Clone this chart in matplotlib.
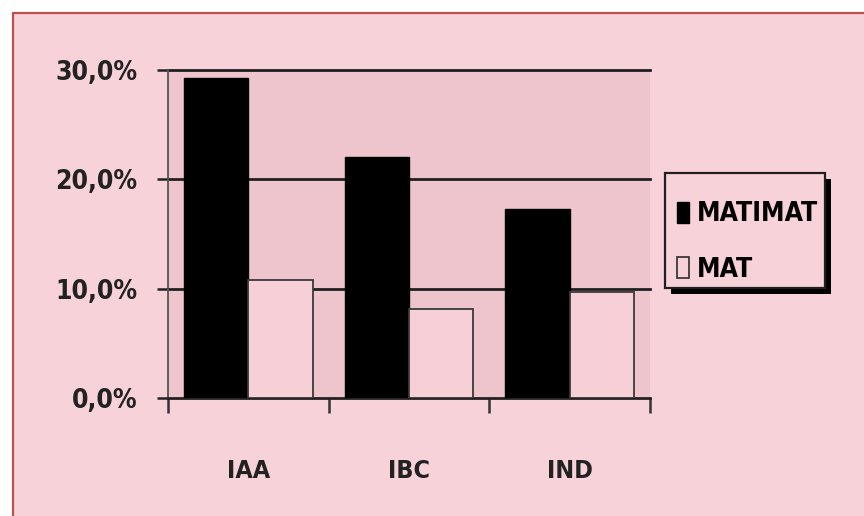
import matplotlib
matplotlib.use("Agg")
import matplotlib.pyplot as plt
from matplotlib.patches import Rectangle
from matplotlib.ticker import FixedLocator

# donnees (en %)
categories = ["IAA", "IBC", "IND"]
matimat = [29.3, 22.0, 17.3]
mat = [10.8, 8.1, 9.7]
yticks = [0, 10, 20, 30]
ytick_labels = ["0,0%", "10,0%", "20,0%", "30,0%"]

fond = "#f8d2d9"
fond_graphe = "#eec5cc"
police = dict(family="DejaVu Sans", stretch="condensed", weight="bold")

fig = plt.figure(figsize=(8.64, 5.16), dpi=100, facecolor="white")

# cadre rose avec bordure rouge
cadre = Rectangle((13/864, -0.1), 1.1, 1 - 13/516 + 0.1, transform=fig.transFigure,
                  facecolor=fond, edgecolor="#c0504d", lw=1.6, zorder=-5)
fig.patches.append(cadre)

ax = fig.add_axes([168/864, 118/516, 482/864, 328/516])
ax.set_facecolor(fond_graphe)

x = list(range(len(categories)))
largeur = 0.4
ax.bar([i - largeur/2 for i in x], matimat, largeur, color="black", edgecolor="black",
       lw=1.0, label="MATIMAT", zorder=3)
ax.bar([i + largeur/2 for i in x], mat, largeur, color="#f7cfd6", edgecolor="#3a3a3a",
       lw=1.3, label="MAT", zorder=3)

ax.set_xlim(-0.5, len(categories) - 0.5)
ax.set_ylim(0, 30)

# lignes horizontales
for v in yticks[1:]:
    ax.axhline(v, color="#202020", lw=2.0, zorder=2, clip_on=False)

ax.set_yticks(yticks)
ax.set_yticklabels(ytick_labels, fontsize=19, color="#222222", **police)
ax.tick_params(axis="y", length=8, width=1.8, pad=14, color="#222222")

ax.set_xticks(x)
ax.set_xticklabels(categories, fontsize=18, color="#222222", **police)
ax.tick_params(axis="x", which="major", length=0, pad=44)
ax.xaxis.set_minor_locator(FixedLocator([-0.5, 0.5, 1.5, 2.5]))
ax.tick_params(axis="x", which="minor", length=11, width=1.8, color="#333333")

for s in ["top", "right"]:
    ax.spines[s].set_visible(False)
ax.spines["left"].set_color("#555555")
ax.spines["left"].set_linewidth(1.3)
ax.spines["bottom"].set_color("#222222")
ax.spines["bottom"].set_linewidth(2.0)

# cartouche de legende : cadre et ombre dessines a la main
ombre = Rectangle((671/864, 1 - 294/516), 160/864, 115/516, transform=fig.transFigure,
                  facecolor="black", edgecolor="none", zorder=3)
boite = Rectangle((665/864, 1 - 288/516), 160/864, 115/516, transform=fig.transFigure,
                  facecolor=fond, edgecolor="#202020", lw=1.6, zorder=4)
fig.patches.extend([ombre, boite])

leg = fig.legend(loc="center left", bbox_to_anchor=(677/864, 1 - 242/516),
                 prop=dict(size=19, **police), frameon=False,
                 handlelength=0.45, handleheight=0.85, handletextpad=0.3,
                 borderpad=0, labelspacing=1.1, borderaxespad=0)
leg.set_zorder(5)

fig.savefig("out.png", dpi=100, facecolor=fig.get_facecolor())
